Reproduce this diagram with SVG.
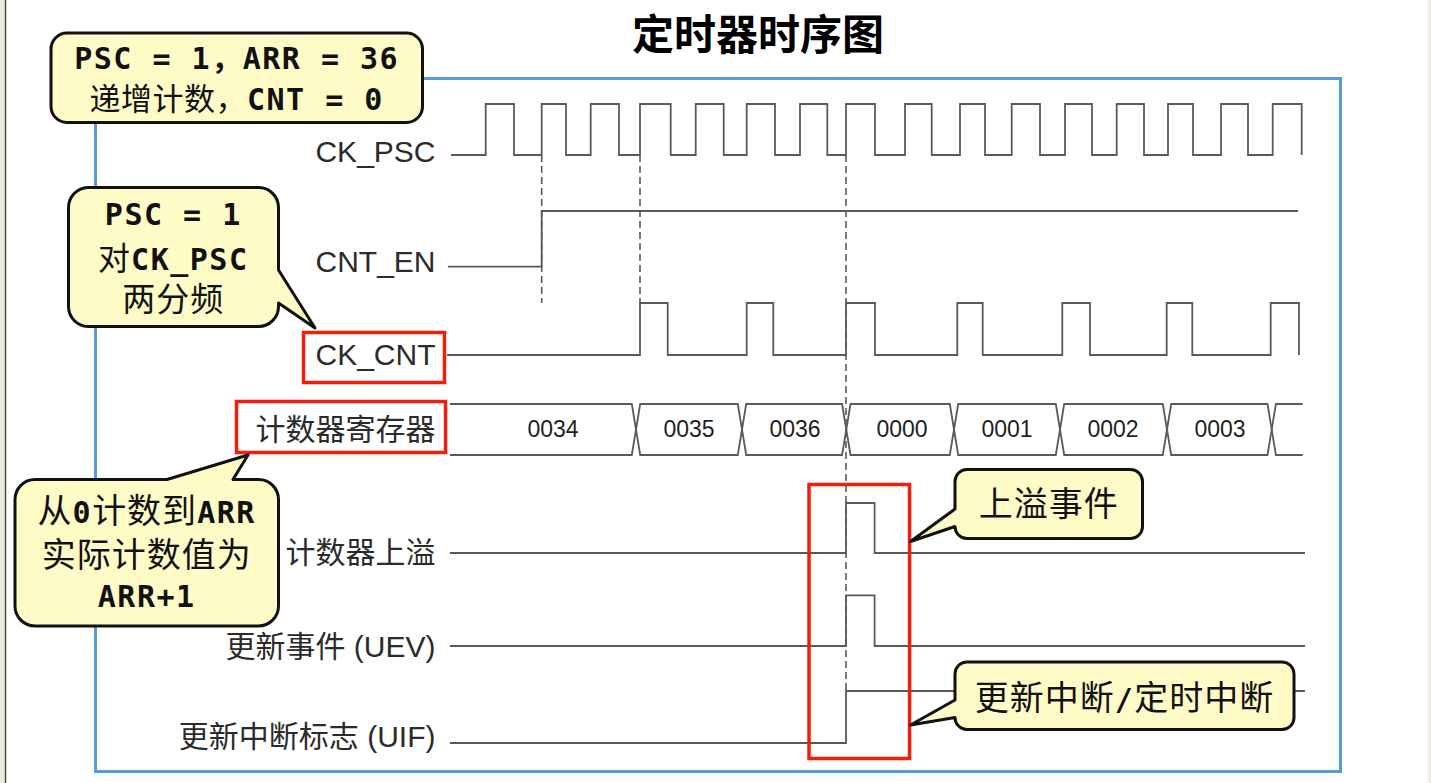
<svg xmlns="http://www.w3.org/2000/svg" width="1431" height="783" viewBox="0 0 1431 783">
<style>
.bg{fill:#ffffff}
.edge{fill:#efe9df}
.frame{fill:none;stroke:#5b9bd5;stroke-width:3}
.wave{fill:none;stroke:#5a5a5a;stroke-width:1.8;stroke-linejoin:miter}
.guide{fill:none;stroke:#5a5a5a;stroke-width:1.6;stroke-dasharray:7 4}
.lbl{font-family:"Liberation Sans","Noto Sans CJK SC",sans-serif;font-size:30px;fill:#2b2b2b}
.val{font-family:"Liberation Sans",sans-serif;font-size:23px;fill:#1e1e1e;text-anchor:middle}
.hl{fill:none;stroke:#f31d0c;stroke-width:3.5}
.callout{fill:#fffbc7;stroke:#111;stroke-width:3;stroke-linejoin:round}
.ct{font-family:"DejaVu Sans Mono","Noto Sans CJK SC",monospace;font-size:30px;font-weight:bold;letter-spacing:1.5px;fill:#111;text-anchor:middle}
.cj{font-family:"Noto Sans CJK SC",sans-serif;font-weight:normal;font-size:34px;letter-spacing:1px}
.title{font-family:"Noto Sans CJK SC",sans-serif;font-size:42px;font-weight:bold;fill:#000;text-anchor:middle}
</style>
<rect class="bg" x="0" y="0" width="1431" height="783"/>
<rect class="edge" x="0" y="0" width="4.5" height="783"/>
<line x1="5.5" y1="0" x2="5.5" y2="783" stroke="#444" stroke-width="1.5"/>
<rect class="edge" x="1428" y="0" width="3" height="783"/>

<g id="title"><text class="title" x="758" y="50">定时器时序图</text></g>

<g id="frame"><rect class="frame" x="95.5" y="78.5" width="1245" height="693"/></g>

<g id="connectors">
<line class="guide" x1="541.7" y1="155" x2="541.7" y2="303"/>
<line class="guide" x1="640" y1="155" x2="640" y2="303"/>
<line class="guide" x1="846" y1="155" x2="846" y2="691"/>
</g>

<g id="sig-ck-psc">
<text class="lbl" x="435.5" y="161.7" text-anchor="end">CK_PSC</text>
<path class="wave" d="M451,155 H485.7 V104 H514 V155 H541.7 V104 H566 V155 H590.7 V104 H619 V155 H640 V104 H670.7 V155 H695.7 V104 H723.7 V155 H746.7 V104 H775 V155 H800 V104 H827.3 V155 H846 V104 H875 V155 H905 V104 H931.7 V155 H960 V104 H985 V155 H1011.7 V104 H1040 V155 H1065 V104 H1092 V155 H1116.7 V104 H1144 V155 H1168 V104 H1193 V155 H1221 V104 H1248 V155 H1272.7 V104 H1301.7 V155"/>
</g>

<g id="sig-cnt-en">
<text class="lbl" x="435.5" y="271.7" text-anchor="end">CNT_EN</text>
<path class="wave" d="M448,266.7 H541.7 V211 H1298"/>
</g>

<g id="sig-ck-cnt">
<text class="lbl" x="435.5" y="365" text-anchor="end">CK_CNT</text>
<path class="wave" d="M447,355 H640 V303 H667.7 V355 H746.7 V303 H773.3 V355 H846 V303 H875 V355 H957.3 V303 H982.7 V355 H1062.3 V303 H1090 V355 H1166.7 V303 H1192.3 V355 H1270.7 V303 H1299 V355"/>
</g>

<g id="sig-counter">
<text class="lbl" x="435.5" y="439.5" text-anchor="end">计数器寄存器</text>
<path class="wave" d="M450,404 H631.8 L640.2,455 H737.8 L746.2,404 H842.1 L850.5,455 H949.8 L958.2,404 H1055.8 L1064.2,455 H1162.8 L1171.2,404 H1267.5 L1275.9,455 H1302.7"/>
<path class="wave" d="M450,455 H631.8 L640.2,404 H737.8 L746.2,455 H842.1 L850.5,404 H949.8 L958.2,455 H1055.8 L1064.2,404 H1162.8 L1171.2,455 H1267.5 L1275.9,404 H1302.7"/>
<text class="val" x="553" y="437">0034</text>
<text class="val" x="689" y="437">0035</text>
<text class="val" x="795" y="437">0036</text>
<text class="val" x="902" y="437">0000</text>
<text class="val" x="1007" y="437">0001</text>
<text class="val" x="1113" y="437">0002</text>
<text class="val" x="1220" y="437">0003</text>
</g>

<g id="sig-overflow">
<text class="lbl" x="435.5" y="563" text-anchor="end">计数器上溢</text>
<path class="wave" d="M450,553 H846 V503 H874.6 V553 H1305"/>
</g>

<g id="sig-uev">
<text class="lbl" x="435.5" y="656.5" text-anchor="end">更新事件 (UEV)</text>
<path class="wave" d="M450,646 H846 V595.3 H874.6 V646 H1305"/>
</g>

<g id="sig-uif">
<text class="lbl" x="435.5" y="747" text-anchor="end">更新中断标志 (UIF)</text>
<path class="wave" d="M450,743 H846 V691 H1305"/>
</g>

<g id="hl-ck-cnt"><rect class="hl" x="303.5" y="332.5" width="141" height="50"/></g>
<g id="hl-counter"><rect class="hl" x="236.5" y="401.5" width="209" height="51"/></g>
<g id="hl-overflow"><rect class="hl" x="809" y="484.5" width="100.5" height="274"/></g>

<g id="callout-config">
<rect class="callout" x="51" y="33" width="371.5" height="89.5" rx="16" ry="16"/>
<text class="ct" x="236.7" y="68.5">PSC = 1，ARR = 36</text>
<text class="ct" x="236.7" y="110"><tspan class="cj" style="font-size:31px;letter-spacing:0.5px">递增计数，</tspan>CNT = 0</text>
</g>

<g id="callout-psc">
<path class="callout" d="M88,187.5 H258.5 A20 20 0 0 1 278.5 207.5 V270 L315 328 L278.5 303 V306.5 A20 20 0 0 1 258.5 326.5 H88 A20 20 0 0 1 68.5 306.5 V207.5 A20 20 0 0 1 88 187.5 Z"/>
<text class="ct" x="173.3" y="225">PSC = 1</text>
<text class="ct" x="173.3" y="270"><tspan class="cj" style="font-size:32px">对</tspan>CK_PSC</text>
<text class="ct" x="173.3" y="311"><tspan class="cj" style="font-size:33px">两分频</tspan></text>
</g>

<g id="callout-arr">
<path class="callout" d="M35,479.5 H167 L248 455 L233 479.5 H258.5 A20 20 0 0 1 278.5 499.5 V606 A20 20 0 0 1 258.5 626 H35 A20 20 0 0 1 15 606 V499.5 A20 20 0 0 1 35 479.5 Z"/>
<text class="ct" x="146.7" y="522.5"><tspan class="cj">从</tspan>0<tspan class="cj">计数到</tspan>ARR</text>
<text class="ct" x="146.7" y="567"><tspan class="cj">实际计数值为</tspan></text>
<text class="ct" x="146.7" y="606.5">ARR+1</text>
</g>

<g id="callout-overflow">
<path class="callout" d="M967,469.5 H1130.5 A12 12 0 0 1 1142.5 481.5 V526.5 A12 12 0 0 1 1130.5 538.5 H967 A12 12 0 0 1 955 526.5 L910.5 541.5 L955 509 V481.5 A12 12 0 0 1 967 469.5 Z"/>
<text class="ct" x="1048.7" y="516"><tspan class="cj">上溢事件</tspan></text>
</g>

<g id="callout-interrupt">
<path class="callout" d="M967,662 H1282 A12 12 0 0 1 1294 674 V717.5 A12 12 0 0 1 1282 729.5 H967 A12 12 0 0 1 955 717.5 L910.5 725 L955 700 V674 A12 12 0 0 1 967 662 Z"/>
<text class="ct" x="1124.5" y="709.5"><tspan class="cj">更新中断</tspan>/<tspan class="cj">定时中断</tspan></text>
</g>
</svg>
